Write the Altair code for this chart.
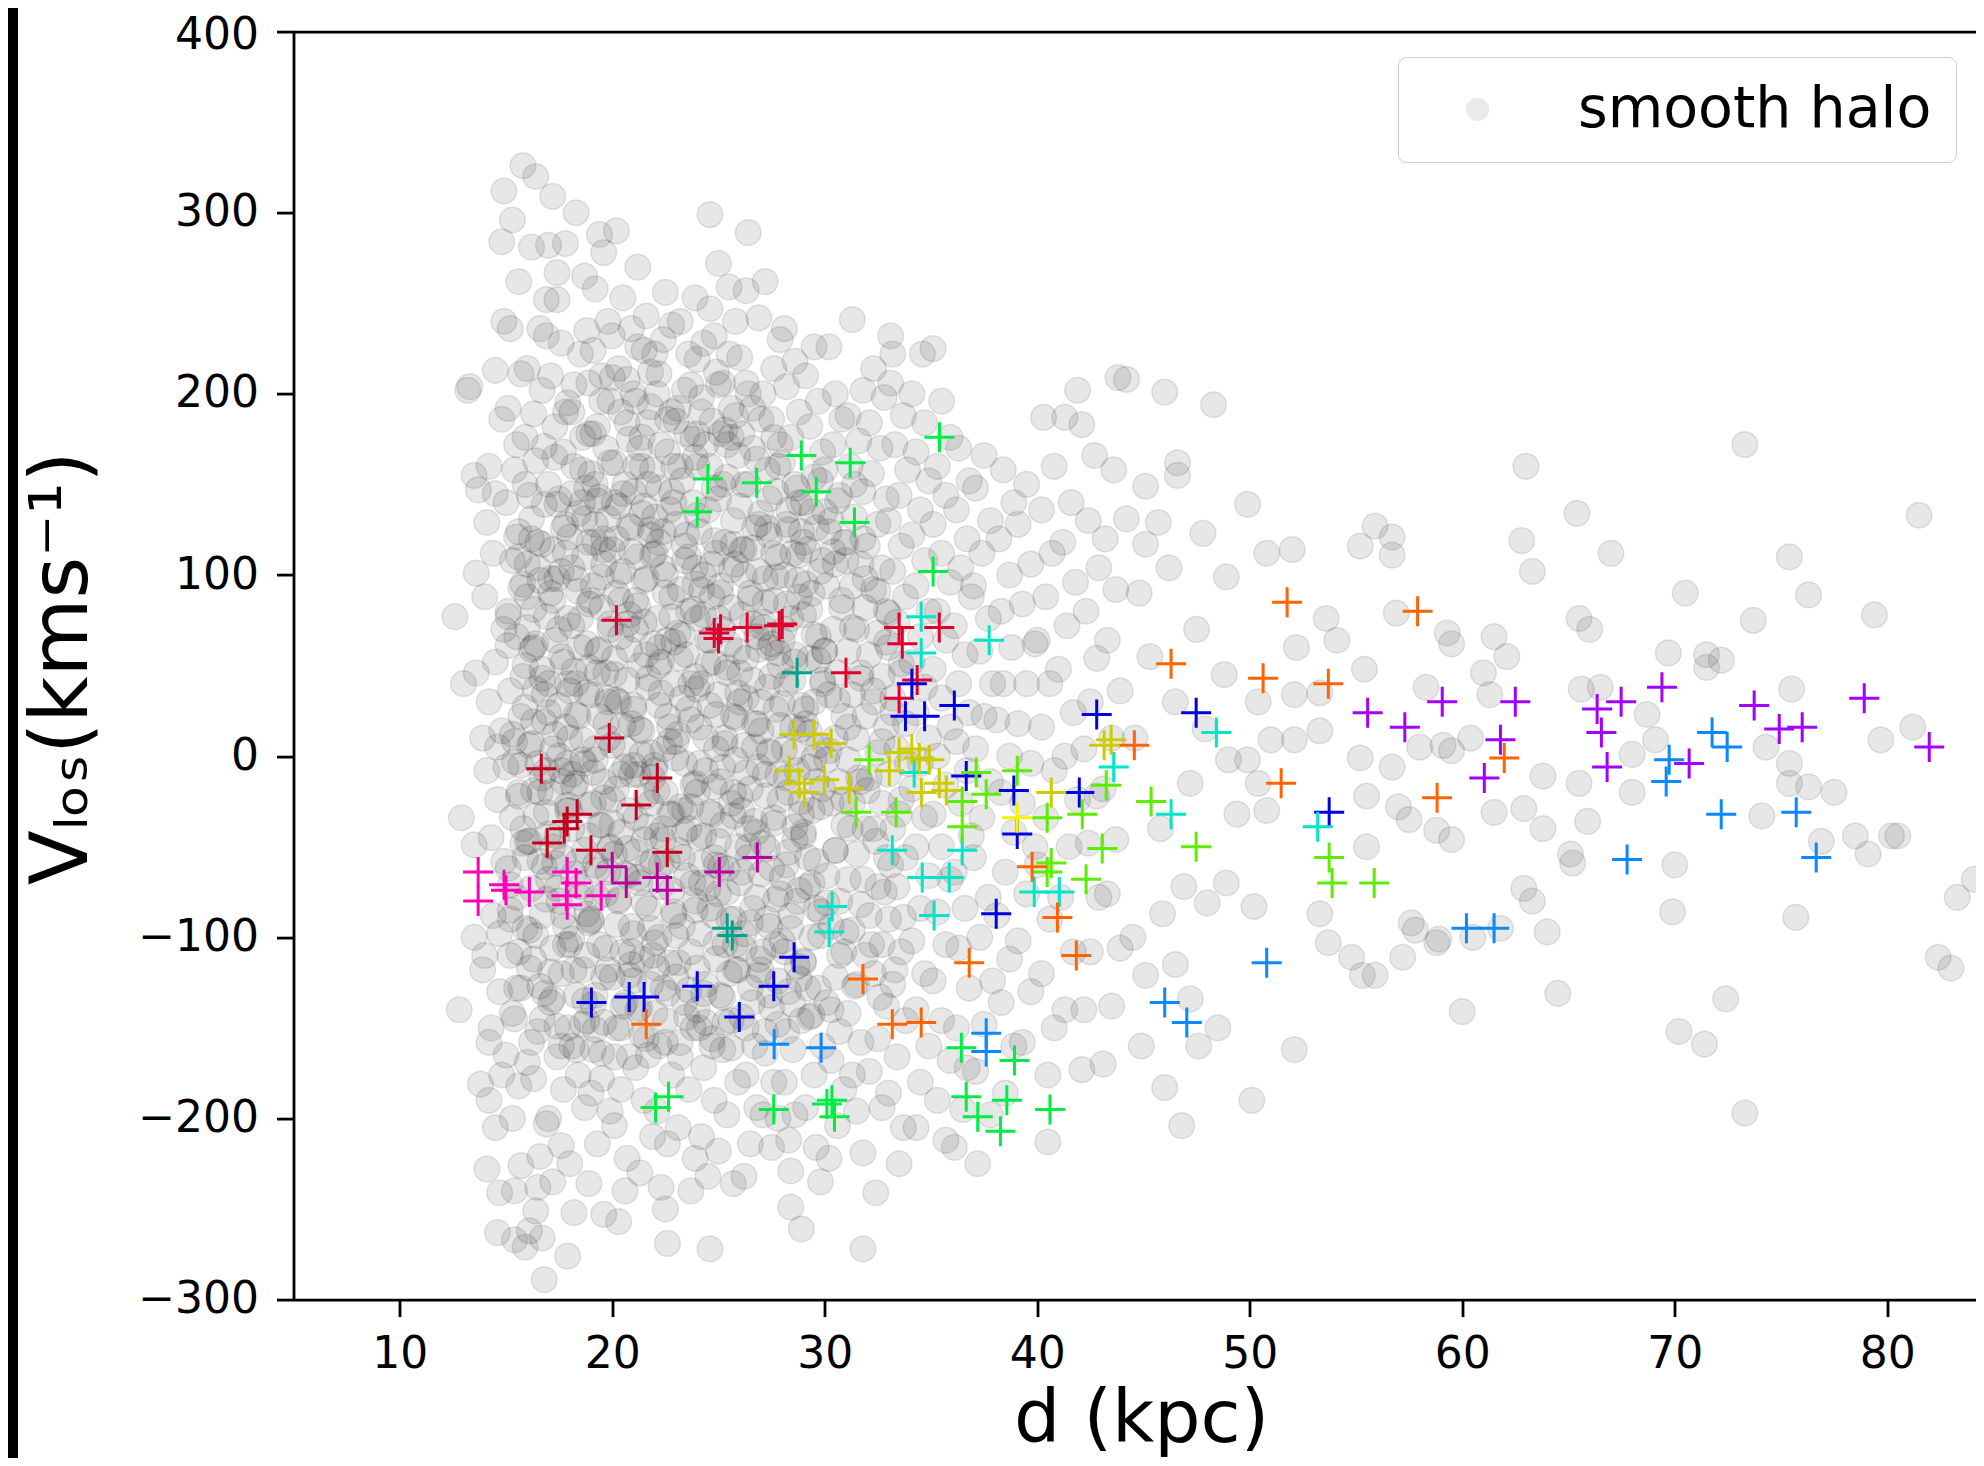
import altair as alt
import pandas as pd

# ---------------- smooth halo (grey circles), (d [kpc], v_los [km/s]) ----------------
halo_12_16 = [
    (12.6, 77), (12.8, -140), (13.3, 204), (13.0, 40), (13.5, 155), (12.9, -34), (13.8, -181), (13.9, 10),
    (13.5, -100), (13.7, 147), (13.5, -49), (13.6, 101), (13.6, 46), (13.9, -118), (13.2, 202),
    (14.9, 312), (14.8, 284), (14.5, 213), (14.8, 186), (14.2, 160), (14.1, 129), (14.4, 112), (14.0, 88),
    (14.9, 70), (14.5, 52), (14.2, 30), (14.8, 14), (14.1, -8), (14.6, -24), (14.3, -45), (14.9, -58),
    (14.4, -88), (14.0, -110), (14.7, -130), (14.2, -158), (14.8, -176), (14.5, -205), (14.1, -228),
    (14.7, -241), (14.6, -263), (14.3, -150), (14.7, -98), (14.5, 145), (14.9, 240), (14.2, -190), (14.6, 5),
    (15.8, 326), (15.3, 296), (15.6, 262), (15.2, 236), (15.7, 211), (15.1, 192), (15.9, 176), (15.4, 158),
    (15.0, 140), (15.6, 124), (15.3, 108), (15.8, 95), (15.1, 80), (15.5, 66), (15.9, 50), (15.2, 36),
    (15.7, 22), (15.4, 8), (15.0, -6), (15.6, -20), (15.3, -34), (15.8, -48), (15.1, -62), (15.5, -78),
    (15.9, -95), (15.2, -110), (15.7, -128), (15.4, -145), (15.0, -165), (15.6, -182), (15.3, -200),
    (15.7, -226), (15.4, -267), (15.9, -271), (15.9, 150), (15.4, -240), (15.2, -85), (15.7, -5), (15.5, 172),
]

halo_16_20 = [
    (16.4, 320), (16.9, 252), (16.7, 202), (16.9, 232), (16.2, 281), (16.6, 236), (16.0, 214), (16.3, 189),
    (16.8, 171), (16.4, 163), (16.1, 144), (16.8, 139), (16.5, 118), (16.0, 106), (16.6, 97), (16.3, 81),
    (16.9, 77), (16.2, 59), (16.7, 43), (16.4, 37), (16.8, 19), (16.1, 6), (16.5, -4), (16.3, -19),
    (16.9, -31), (16.0, -47), (16.6, -58), (16.2, -73), (16.7, -88), (16.4, -99), (16.1, -117), (16.8, -131),
    (16.5, -152), (16.0, -169), (16.3, -178), (16.9, -203), (16.6, -221), (16.4, -251), (16.7, -266),
    (16.8, -289), (16.5, -238), (16.1, -262), (16.3, 60), (16.7, -12), (16.2, 120),
    (17.2, 309), (17.0, 282), (17.8, 283), (17.4, 267), (17.4, 252), (17.6, 228), (17.1, 210), (17.9, 195),
    (17.3, 182), (17.7, 168), (17.0, 150), (17.5, 142), (17.8, 128), (17.2, 114), (17.6, 102), (17.1, 90),
    (17.9, 76), (17.3, 64), (17.7, 52), (17.0, 40), (17.5, 28), (17.8, 16), (17.2, 4), (17.6, -8),
    (17.1, -20), (17.9, -30), (17.4, -44), (17.7, -56), (17.0, -68), (17.5, -80), (17.8, -94), (17.2, -106),
    (17.6, -120), (17.1, -136), (17.9, -150), (17.4, -166), (17.7, -184), (17.0, -200), (17.2, -235),
    (17.9, -276), (17.6, -215), (17.2, -50), (17.9, -4), (17.4, 98),
    (18.7, 265), (18.8, 235), (18.5, 222), (18.3, 300), (18.9, 206), (18.1, 190), (18.6, 176), (18.2, 160),
    (18.8, 148), (18.4, 134), (18.0, 121), (18.7, 110), (18.3, 98), (18.9, 84), (18.1, 72), (18.5, 60),
    (18.2, 47), (18.8, 35), (18.4, 22), (18.0, 10), (18.6, -2), (18.3, -15), (18.9, -27), (18.1, -40),
    (18.7, -52), (18.2, -65), (18.5, -78), (18.9, -92), (18.0, -104), (18.6, -118), (18.3, -132),
    (18.8, -146), (18.1, -160), (18.4, -176), (18.7, -194), (18.2, -252), (18.9, -236), (18.0, -225),
    (18.6, 140), (18.3, 40), (18.8, -110), (18.1, -10),
    (19.4, 288), (19.6, 278), (19.2, 258), (19.8, 240), (19.1, 224), (19.5, 210), (19.9, 196), (19.3, 182),
    (19.7, 170), (19.0, 156), (19.4, 143), (19.8, 131), (19.2, 118), (19.6, 106), (19.1, 94), (19.5, 82),
    (19.9, 70), (19.3, 58), (19.7, 46), (19.0, 34), (19.4, 22), (19.8, 10), (19.2, -2), (19.6, -14),
    (19.1, -26), (19.5, -38), (19.9, -50), (19.3, -63), (19.7, -76), (19.0, -90), (19.4, -104), (19.8, -118),
    (19.2, -132), (19.6, -147), (19.1, -162), (19.5, -178), (19.9, -196), (19.3, -214), (19.6, -253),
    (19.0, -186), (19.6, 120), (19.2, -60), (19.8, 30),
]

halo_20_24 = [
    (20.5, 253), (20.0, 209), (20.7, 208), (20.2, 290), (20.9, 236), (20.4, 190), (20.8, 175), (20.1, 162),
    (20.6, 150), (20.3, 138), (20.9, 126), (20.0, 114), (20.5, 102), (20.2, 90), (20.8, 78), (20.4, 66),
    (20.1, 54), (20.7, 42), (20.3, 30), (20.9, 18), (20.0, 6), (20.6, -6), (20.2, -18), (20.8, -30),
    (20.4, -42), (20.1, -54), (20.7, -66), (20.3, -80), (20.9, -94), (20.5, -108), (20.0, -122), (20.6, -136),
    (20.2, -150), (20.8, -166), (20.4, -184), (20.1, -204), (20.7, -222), (20.3, -257), (20.6, -240),
    (20.9, -115), (20.4, -10), (20.2, 120),
    (21.6, 243), (21.5, 224), (21.2, 270), (21.8, 212), (21.1, 196), (21.7, 184), (21.3, 170), (21.9, 158),
    (21.0, 146), (21.4, 134), (21.8, 122), (21.2, 110), (21.6, 98), (21.1, 86), (21.5, 74), (21.9, 62),
    (21.3, 50), (21.7, 38), (21.0, 26), (21.4, 14), (21.8, 2), (21.2, -10), (21.6, -22), (21.1, -34),
    (21.5, -46), (21.9, -58), (21.3, -70), (21.7, -84), (21.0, -98), (21.4, -112), (21.8, -126), (21.2, -140),
    (21.6, -156), (21.1, -172), (21.5, -190), (21.9, -210), (21.3, -230), (21.7, -60), (21.4, 160), (21.0, -5),
    (22.0, 222), (22.5, 256), (22.8, 238), (22.1, 200), (22.6, 186), (22.3, 172), (22.9, 160), (22.2, 148),
    (22.7, 136), (22.4, 124), (22.0, 112), (22.5, 100), (22.8, 88), (22.1, 76), (22.6, 64), (22.3, 52),
    (22.9, 40), (22.2, 28), (22.7, 16), (22.4, 4), (22.0, -8), (22.5, -20), (22.8, -32), (22.1, -44),
    (22.6, -58), (22.3, -72), (22.9, -86), (22.2, -100), (22.7, -114), (22.4, -128), (22.0, -142),
    (22.5, -158), (22.8, -176), (22.1, -196), (22.6, -214), (22.5, -250), (22.6, -269), (22.3, -238),
    (22.9, 140), (22.4, -40), (22.2, 60),
    (23.9, 253), (24.0, 219), (23.2, 240), (23.7, 205), (23.1, 192), (23.5, 178), (23.9, 165), (23.3, 152),
    (23.8, 140), (23.0, 128), (23.4, 116), (23.9, 104), (23.2, 92), (23.6, 80), (23.1, 68), (23.5, 56),
    (23.9, 44), (23.3, 32), (23.7, 20), (23.0, 8), (23.4, -4), (23.8, -16), (23.2, -28), (23.6, -40),
    (23.1, -52), (23.5, -66), (23.9, -80), (23.3, -94), (23.7, -108), (23.0, -122), (23.4, -136),
    (23.8, -150), (23.2, -166), (23.6, -184), (23.7, -240), (23.1, -205), (23.9, -222), (23.4, -30),
    (23.6, 110),
]

halo_24_28 = [
    (24.6, 299), (24.6, 247), (24.3, 228), (24.9, 212), (24.2, 198), (24.7, 185), (24.4, 172), (24.0, 160),
    (24.8, 148), (24.5, 136), (24.1, 124), (24.9, 112), (24.3, 100), (24.7, 88), (24.0, 76), (24.5, 64),
    (24.8, 52), (24.2, 40), (24.6, 28), (24.1, 16), (24.9, 4), (24.4, -8), (24.0, -20), (24.7, -32),
    (24.3, -44), (24.8, -56), (24.2, -70), (24.6, -84), (24.1, -98), (24.9, -112), (24.4, -126), (24.0, -140),
    (24.7, -156), (24.3, -172), (24.8, -190), (24.2, -210), (24.6, -272), (24.5, -232), (24.9, -60),
    (24.1, -150),
    (25.5, 259), (25.5, 222), (25.0, 272), (25.8, 240), (25.2, 206), (25.6, 192), (25.1, 178), (25.9, 166),
    (25.4, 154), (25.0, 142), (25.7, 130), (25.3, 118), (25.8, 106), (25.1, 94), (25.6, 82), (25.2, 70),
    (25.9, 58), (25.4, 46), (25.0, 34), (25.7, 22), (25.3, 10), (25.8, -2), (25.1, -14), (25.6, -26),
    (25.2, -38), (25.9, -50), (25.4, -62), (25.0, -76), (25.7, -90), (25.3, -104), (25.8, -118), (25.1, -132),
    (25.6, -146), (25.2, -162), (25.9, -180), (25.4, -198), (25.0, -218), (25.7, -236), (25.5, -120),
    (25.3, 180),
    (26.4, 289), (26.3, 257), (26.0, 220), (26.3, 206), (26.9, 242), (26.6, 192), (26.1, 178), (26.8, 164),
    (26.4, 150), (26.0, 138), (26.7, 126), (26.2, 114), (26.9, 102), (26.5, 90), (26.1, 78), (26.8, 66),
    (26.3, 54), (26.6, 42), (26.0, 30), (26.7, 18), (26.2, 6), (26.9, -6), (26.5, -18), (26.1, -30),
    (26.8, -42), (26.4, -56), (26.0, -70), (26.6, -84), (26.2, -98), (26.9, -112), (26.5, -128), (26.1, -144),
    (26.7, -160), (26.3, -176), (26.8, -194), (26.5, -214), (26.2, -232), (26.6, 115), (26.4, -40),
    (27.9, 230), (27.2, 262), (27.6, 214), (27.1, 200), (27.5, 186), (27.9, 172), (27.3, 158), (27.7, 146),
    (27.0, 134), (27.4, 122), (27.8, 110), (27.2, 98), (27.6, 86), (27.1, 74), (27.5, 62), (27.9, 50),
    (27.3, 38), (27.7, 26), (27.0, 14), (27.4, 2), (27.8, -10), (27.2, -22), (27.6, -34), (27.1, -48),
    (27.5, -62), (27.9, -76), (27.3, -90), (27.7, -104), (27.0, -118), (27.4, -132), (27.8, -148),
    (27.2, -164), (27.6, -180), (27.1, -198), (27.5, -216), (27.8, -200), (27.4, 60),
]

halo_28_32 = [
    (28.4, -229), (28.4, -249), (28.9, -261), (28.1, 236), (28.6, 218), (28.2, 204), (28.8, 190), (28.4, 176),
    (28.0, 162), (28.7, 148), (28.3, 136), (28.9, 124), (28.5, 112), (28.1, 100), (28.8, 88), (28.4, 76),
    (28.0, 64), (28.6, 52), (28.2, 40), (28.9, 28), (28.5, 16), (28.1, 4), (28.7, -8), (28.3, -20),
    (28.9, -32), (28.6, -46), (28.2, -60), (28.8, -74), (28.4, -88), (28.0, -102), (28.7, -116), (28.3, -130),
    (28.9, -146), (28.5, -162), (28.1, -180), (28.6, -198), (28.3, -212),
    (29.5, 226), (29.1, 210), (29.7, 196), (29.3, 182), (29.9, 168), (29.5, 154), (29.0, 140), (29.6, 126),
    (29.2, 114), (29.8, 102), (29.4, 90), (29.0, 78), (29.7, 66), (29.3, 54), (29.9, 42), (29.5, 30),
    (29.1, 18), (29.7, 6), (29.3, -6), (29.9, -18), (29.4, -30), (29.0, -44), (29.6, -58), (29.2, -72),
    (29.8, -86), (29.4, -100), (29.0, -114), (29.7, -128), (29.3, -144), (29.9, -160), (29.5, -176),
    (29.1, -194), (29.6, -216), (29.8, -235),
    (30.5, 200), (30.2, 226), (30.8, 186), (30.4, 172), (30.0, 158), (30.7, 144), (30.3, 130), (30.9, 118),
    (30.5, 106), (30.1, 94), (30.8, 82), (30.4, 70), (30.0, 58), (30.6, 46), (30.2, 34), (30.9, 22),
    (30.5, 10), (30.1, -2), (30.7, -14), (30.3, -26), (30.9, -38), (30.5, -52), (30.1, -66), (30.7, -80),
    (30.3, -94), (30.9, -108), (30.5, -122), (30.1, -136), (30.7, -152), (30.3, -168), (30.9, -184),
    (30.6, -204), (30.2, -222),
    (31.3, 241), (31.8, 202), (31.1, 188), (31.6, 174), (31.2, 160), (31.8, 146), (31.4, 132), (31.0, 118),
    (31.7, 106), (31.3, 94), (31.9, 82), (31.5, 70), (31.1, 58), (31.7, 46), (31.3, 34), (31.9, 22),
    (31.5, 10), (31.1, -2), (31.7, -14), (31.3, -26), (31.9, -40), (31.5, -54), (31.1, -68), (31.7, -82),
    (31.3, -96), (31.9, -110), (31.5, -126), (31.1, -142), (31.7, -158), (31.3, -176), (31.8, -272),
    (31.8, -219), (31.5, -196),
]

halo_32_36 = [
    (32.4, -241), (32.3, 214), (32.8, 198), (32.1, 184), (32.6, 170), (32.2, 156), (32.9, 142), (32.5, 128),
    (32.0, 116), (32.7, 104), (32.3, 92), (32.9, 80), (32.5, 68), (32.1, 56), (32.7, 44), (32.3, 30),
    (32.9, 16), (32.5, 2), (32.1, -12), (32.7, -26), (32.3, -40), (32.9, -56), (32.5, -72), (32.1, -88),
    (32.7, -104), (32.3, -120), (32.9, -138), (32.5, -156), (32.1, -174), (32.7, -194),
    (33.1, 232), (33.2, 222), (33.1, 206), (33.5, -225), (33.7, 188), (33.3, 172), (33.9, 158), (33.5, 144),
    (33.0, 130), (33.6, 116), (33.2, 102), (33.8, 88), (33.4, 74), (33.0, 60), (33.6, 46), (33.2, 32),
    (33.8, 18), (33.4, 4), (33.0, -10), (33.6, -24), (33.2, -40), (33.8, -56), (33.4, -72), (33.0, -90),
    (33.6, -108), (33.2, -126), (33.8, -146), (33.4, -166), (33.0, -186), (33.7, -205),
    (34.6, 222), (34.1, 200), (34.3, -205), (34.7, 184), (34.3, 168), (34.9, 152), (34.5, 136), (34.1, 122),
    (34.7, 108), (34.3, 94), (34.9, 80), (34.5, 66), (34.1, 52), (34.7, 38), (34.3, 24), (34.9, 10),
    (34.5, -4), (34.1, -18), (34.7, -34), (34.3, -50), (34.9, -66), (34.5, -84), (34.1, -102), (34.7, -120),
    (34.3, -140), (34.9, -160), (34.5, -180),
    (35.1, 225), (35.5, 196), (35.9, 176), (35.3, 160), (35.7, 144), (35.1, 128), (35.5, 112), (35.9, 96),
    (35.3, 80), (35.7, 64), (35.1, 48), (35.5, 32), (35.9, 16), (35.3, 0), (35.7, -16), (35.1, -32),
    (35.5, -50), (35.9, -68), (35.3, -86), (35.7, -104), (35.1, -124), (35.5, -146), (35.9, -168),
    (35.3, -190), (35.7, -212),
]

# denser inner part of the halo (where the cloud is darkest)
halo_core_15_23 = [
    (15.3, -142), (15.6, -108), (15.2, -71), (15.8, -40), (15.4, -3), (15.9, 27), (15.1, 61), (15.7, 93), (15.5, 121),
    (16.2, -158), (16.6, -127), (16.1, -96), (16.8, -61), (16.4, -33), (16.9, -8), (16.3, 19), (16.7, 48),
    (16.0, 71), (16.5, 104), (16.2, 131),
    (17.4, -149), (17.1, -119), (17.7, -88), (17.3, -59), (17.9, -27), (17.5, 0), (17.0, 24), (17.6, 55),
    (17.2, 86), (17.8, 112), (17.4, 139),
    (18.3, -162), (18.7, -135), (18.1, -101), (18.5, -72), (18.9, -44), (18.2, -17), (18.6, 9), (18.0, 36),
    (18.8, 62), (18.4, 91), (18.9, 118), (18.1, 145),
    (19.2, -151), (19.6, -122), (19.0, -91), (19.8, -64), (19.4, -38), (19.1, -9), (19.7, 18), (19.3, 46),
    (19.9, 73), (19.5, 99), (19.2, 128),
    (20.1, -166), (20.5, -138), (20.9, -108), (20.3, -79), (20.7, -51), (20.0, -24), (20.6, 4), (20.2, 31),
    (20.8, 59), (20.4, 86), (20.9, 113), (20.1, 140),
    (21.4, -154), (21.0, -124), (21.8, -95), (21.2, -67), (21.6, -39), (21.9, -12), (21.3, 15), (21.7, 43),
    (21.1, 70), (21.5, 97), (21.8, 125),
    (22.2, -160), (22.6, -131), (22.0, -103), (22.8, -74), (22.4, -46), (22.1, -19), (22.7, 8), (22.3, 35),
    (22.9, 63), (22.5, 90), (22.2, 118), (22.8, 146),
    (15.5, -128), (15.2, -90), (15.9, -56), (15.6, -22), (15.3, 12), (15.8, 44), (15.1, 77), (15.6, 110),
    (16.7, -145), (16.3, -112), (16.9, -79), (16.1, -47), (16.6, -20), (16.2, 7), (16.8, 34), (16.4, 62),
    (16.0, 88), (16.7, 117),
    (17.6, -160), (17.2, -134), (17.8, -104), (17.4, -73), (17.0, -43), (17.7, -14), (17.3, 12), (17.9, 40),
    (17.5, 70), (17.1, 98), (17.7, 126),
    (18.6, -148), (18.2, -118), (18.8, -87), (18.4, -58), (18.0, -30), (18.7, -4), (18.3, 23), (18.9, 49),
    (18.5, 76), (18.1, 104), (18.7, 131),
    (19.5, -164), (19.1, -137), (19.7, -106), (19.3, -78), (19.9, -51), (19.6, -23), (19.2, 4), (19.8, 32),
    (19.4, 59), (19.0, 86), (19.6, 114), (19.3, 141),
    (20.4, -150), (20.8, -121), (20.2, -93), (20.6, -65), (20.0, -37), (20.9, -10), (20.5, 17), (20.1, 45),
    (20.7, 73), (20.3, 100), (20.8, 127),
    (21.7, -165), (21.3, -139), (21.9, -110), (21.5, -81), (21.1, -53), (21.8, -26), (21.4, 1), (21.0, 28),
    (21.6, 56), (21.2, 83), (21.9, 111), (21.5, 138),
    (22.5, -146), (22.1, -117), (22.9, -88), (22.3, -60), (22.7, -32), (22.0, -5), (22.6, 22), (22.2, 50),
    (22.8, 77), (22.4, 104), (22.0, 132),
]

halo_core_23_34 = [
    (23.2, -158), (23.6, -129), (23.0, -99), (23.8, -70), (23.4, -42), (23.9, -15), (23.1, 12), (23.7, 40),
    (23.3, 67), (23.9, 95), (23.5, 122),
    (24.4, -147), (24.0, -117), (24.8, -88), (24.2, -59), (24.6, -31), (24.1, -4), (24.9, 23), (24.5, 51),
    (24.3, 78), (24.7, 106), (24.0, 133),
    (25.6, -161), (25.2, -133), (25.8, -104), (25.4, -75), (25.0, -47), (25.7, -20), (25.3, 7), (25.9, 35),
    (25.5, 62), (25.1, 90), (25.7, 117),
    (26.3, -150), (26.9, -121), (26.5, -92), (26.1, -64), (26.7, -36), (26.3, -9), (26.8, 18), (26.0, 46),
    (26.6, 73), (26.2, 100), (26.9, 128),
    (27.5, -139), (27.1, -108), (27.7, -79), (27.3, -51), (27.9, -24), (27.4, 3), (27.0, 30), (27.8, 57),
    (27.2, 85), (27.6, 112),
    (28.2, -152), (28.8, -123), (28.4, -95), (28.0, -67), (28.6, -39), (28.2, -12), (28.9, 15), (28.5, 42),
    (28.1, 70), (28.7, 97), (28.3, 125),
    (29.4, -143), (29.0, -113), (29.6, -84), (29.2, -56), (29.8, -28), (29.5, -1), (29.1, 26), (29.7, 53),
    (29.3, 81), (29.9, 108),
    (23.5, -144), (23.1, -114), (23.9, -85), (23.3, -56), (23.7, -28), (23.0, -1), (23.6, 26), (23.2, 54),
    (23.8, 81), (23.4, 108),
    (24.7, -160), (24.3, -131), (24.9, -103), (24.5, -73), (24.1, -45), (24.8, -17), (24.4, 10), (24.0, 37),
    (24.6, 64), (24.2, 92), (24.8, 119),
    (25.3, -147), (25.9, -118), (25.5, -90), (25.1, -61), (25.7, -33), (25.2, -6), (25.8, 21), (25.4, 49),
    (25.0, 76), (25.6, 103),
    (26.6, -136), (26.2, -106), (26.8, -78), (26.4, -50), (26.0, -22), (26.7, 5), (26.3, 32), (26.9, 59),
    (26.5, 87), (26.1, 114),
    (27.2, -152), (27.8, -124), (27.4, -94), (27.0, -65), (27.6, -37), (27.2, -10), (27.9, 17), (27.5, 44),
    (27.1, 71), (27.7, 99), (27.3, 126),
    (28.5, -137), (28.1, -108), (28.7, -80), (28.3, -53), (28.9, -25), (28.5, 2), (28.0, 29), (28.6, 56),
    (28.2, 84), (28.8, 111),
    (29.2, -128), (29.8, -99), (29.4, -70), (29.0, -42), (29.6, -14), (29.3, 13), (29.9, 40), (29.5, 67),
    (29.1, 95),
    (30.3, -140), (30.7, -110), (30.1, -81), (30.5, -52), (30.9, -24), (30.2, 3), (30.6, 31), (30.0, 58),
    (30.8, 86), (30.4, 113),
    (31.4, -127), (31.0, -97), (31.8, -68), (31.2, -40), (31.6, -12), (31.1, 16), (31.7, 43), (31.3, 71),
    (31.9, 98),
    (32.6, -133), (32.2, -104), (32.8, -75), (32.4, -47), (32.0, -19), (32.7, 8), (32.3, 36), (32.9, 63),
    (32.5, 91),
    (33.3, -118), (33.7, -89), (33.1, -60), (33.5, -32), (33.9, -4), (33.2, 24), (33.6, 51), (33.0, 79),
]

halo_core_upper = [
    (17.3, 165), (17.8, 190), (18.2, 205), (18.6, 158), (19.1, 178), (19.5, 196), (19.9, 162), (20.3, 214),
    (20.7, 184), (21.0, 200), (21.4, 176), (21.8, 193), (22.2, 211), (22.6, 168), (23.0, 185), (23.4, 202),
    (23.8, 175), (24.2, 190), (24.6, 160), (25.0, 205), (25.4, 172), (25.8, 188), (26.2, 150), (26.6, 170),
    (27.0, 186), (27.4, 142), (27.8, 160), (28.2, 128), (28.6, 150), (29.0, 118), (29.4, 135), (29.8, 152),
    (30.2, 124), (30.6, 141), (31.0, 108), (31.4, 150), (31.8, 120), (20.0, 232), (21.2, 226), (22.4, 230),
    (23.6, 222), (24.8, 232), (19.2, 150), (20.5, 145), (21.7, 150), (22.8, 190), (24.0, 178), (25.2, 150),
    (26.4, 200), (27.6, 176), (28.8, 140), (30.0, 135), (18.9, 178), (21.1, 160), (23.2, 160), (25.6, 176),
]

halo_36_44 = [
    (36.1, -216), (37.2, -225), (36.3, 170), (36.8, 152), (36.2, 136), (36.7, 120), (36.4, 104), (36.9, 88),
    (36.1, 72), (36.6, 56), (36.3, 40), (36.8, 24), (36.2, 8), (36.7, -8), (36.4, -26), (36.9, -44),
    (36.1, -64), (36.6, -84), (36.3, -106), (36.8, -128), (36.2, -150), (36.7, -172), (36.5, -195),
    (37.5, 166), (37.1, 148), (37.8, 130), (37.4, 112), (37.0, 94), (37.7, 76), (37.3, 58), (37.9, 40),
    (37.5, 22), (37.1, 4), (37.8, -14), (37.4, -34), (37.0, -56), (37.7, -78), (37.3, -100), (37.9, -124),
    (37.5, -148), (37.1, -174), (37.8, -198),
    (38.4, 158), (38.9, 140), (38.2, 120), (38.7, 100), (38.3, 80), (38.8, 60), (38.4, 40), (38.1, 20),
    (38.7, 0), (38.3, -20), (38.9, -42), (38.5, -64), (38.1, -88), (38.7, -112), (38.3, -136), (38.9, -160),
    (38.5, -186),
    (39.5, 150), (39.1, 128), (39.7, 106), (39.3, 84), (39.9, 62), (39.5, 40), (39.1, 18), (39.7, -4),
    (39.3, -26), (39.9, -50), (39.5, -76), (39.1, -102), (39.7, -130), (39.3, -158), (40.5, -213),
    (40.3, 187), (40.8, 160), (40.2, 136), (40.7, 112), (40.4, 88), (40.0, 64), (40.6, 40), (40.2, 16),
    (40.8, -8), (40.4, -34), (40.0, -60), (40.6, -90), (40.2, -120), (40.8, -150), (40.5, -176),
    (41.3, 187), (42.1, 183), (41.9, 202), (41.6, 140), (41.2, 118), (41.8, 96), (41.4, 72), (41.0, 48),
    (41.7, 24), (41.3, 0), (41.9, -24), (41.5, -50), (41.1, -78), (41.7, -108), (41.3, -140), (42.1, -173),
    (42.7, 166), (43.6, 158), (43.8, 209), (42.4, 130), (42.9, 104), (42.3, 80), (42.8, 54), (42.5, 30),
    (42.2, 4), (42.8, -22), (42.4, -48), (42.9, -78), (42.5, -108), (42.2, -140), (43.2, 120), (43.7, 92),
    (43.3, 64), (43.9, 36), (43.5, 10), (43.1, -18), (43.7, -46), (43.3, -76), (43.9, -106), (43.5, -138),
    (43.1, -170),
]

halo_44_60 = [
    (44.2, 208), (46.0, 201), (48.3, 194), (46.6, 162), (46.6, 155), (45.1, 149), (49.9, 139), (45.7, 129),
    (47.8, 123), (48.9, 99), (50.8, 112), (52.0, 114), (55.9, 127), (56.7, 121), (55.2, 116), (56.7, 111),
    (53.6, 76), (54.1, 64), (52.2, 60), (56.9, 79), (59.3, 68), (59.5, 62), (55.4, 48), (50.4, 30),
    (52.1, 34), (53.3, 35), (58.3, 38), (51.0, 9), (52.1, 9), (53.3, 14), (55.2, -1), (56.7, -6),
    (58.0, 5), (59.1, 6), (59.5, 3), (49.0, -2), (49.9, -2), (50.4, -15), (49.4, -32), (50.8, -30),
    (55.5, -22), (57.0, -28), (57.5, -35), (58.8, -41), (59.5, -46), (53.3, -87), (53.7, -103), (57.6, -92),
    (58.9, -101), (55.5, -50), (46.9, -72), (45.9, -87), (48.9, -70), (48.0, -81), (50.2, -83), (54.8, -111),
    (57.2, -111), (55.3, -121), (55.9, -121), (57.8, -96), (58.8, -103), (60.0, -141), (45.1, -121),
    (47.2, -134), (46.0, -183), (46.8, -204), (50.1, -190), (52.1, -162), (44.2, 131), (45.1, 117),
    (44.8, 90), (46.2, 104), (47.5, 70), (45.3, 55), (46.5, 30), (44.6, 10), (47.2, -15), (45.8, -40),
    (44.5, -100), (48.5, -150), (47.6, -160), (44.9, -160), (46.5, -115), (48.8, 45), (47.9, 15),
]

halo_60_85 = [
    (62.8, 119), (63.3, 102), (63.0, 160), (65.4, 134), (67.0, 112), (75.4, 110), (81.5, 133), (76.3, 89),
    (65.5, 76), (73.7, 75), (79.4, 78), (69.7, 57), (71.5, 56), (72.2, 53), (71.5, 49), (65.6, 37),
    (66.5, 38), (68.7, 23), (75.5, 37), (69.1, 9), (68.0, 1), (74.3, 5), (75.4, -4), (81.2, 16),
    (79.7, 9), (65.5, -15), (75.4, -15), (76.3, -17), (65.9, -36), (74.1, -33), (65.1, -54), (65.2, -59),
    (76.9, -47), (79.1, -54), (80.2, -44), (69.9, -86), (75.7, -89), (83.3, -78), (84.1, -68), (82.4, -111),
    (83.0, -117), (61.5, 66), (62.1, 55), (61.0, 46), (61.3, 34), (63.8, -11), (61.5, -31), (62.9, -29),
    (63.8, -40), (62.9, -73), (63.3, -80), (64.0, -97), (64.5, -131), (70.2, -152), (71.4, -159),
    (72.4, -134), (73.3, -197), (73.3, 172), (60.5, -100), (61.8, -95), (60.4, 10), (66.0, 70), (68.0, -20),
    (70.5, 90), (70.0, -60), (77.5, -20), (78.5, -44), (80.5, -44),
]

# ---------------- coloured '+' groups (d, v) ----------------
red_upper = [(20.2, 75), (24.8, 68), (25.0, 65), (25.1, 70), (26.35, 71), (27.86, 72), (28.0, 73),
             (33.5, 71), (35.39, 71), (33.65, 62), (31.0, 46), (34.35, 42), (33.5, 32)]
red_lower = [(19.86, 10), (16.66, -7), (22.12, -12), (21.13, -27), (18.35, -32), (17.88, -36),
             (17.74, -40), (16.94, -48), (19.0, -52), (22.59, -53)]
pink = [(13.69, -64), (13.69, -80), (14.91, -71), (15.0, -74), (16.1, -75), (17.88, -64), (18.3, -70),
        (17.84, -77), (17.88, -82), (19.48, -77)]
magenta = [(20.0, -61), (20.66, -70), (22.12, -67), (22.59, -74), (25.04, -64), (26.83, -56)]
blue = [(34.1, 40), (33.8, 22), (34.7, 22), (36.1, 28), (42.8, 23), (36.66, -11), (38.9, -19),
        (41.98, -20), (39.06, -43), (38.07, -87), (28.56, -111), (27.6, -127), (25.98, -144), (24.0, -127),
        (47.48, 24), (53.74, -31), (19.02, -136), (20.8, -133), (21.5, -133)]
azure = [(27.62, -159), (29.83, -161), (37.6, -153), (37.6, -163), (50.8, -114), (60.2, -95), (61.5, -95),
         (46.0, -136), (47.04, -147), (71.76, 13), (72.47, 5), (69.74, -2), (69.6, -14), (72.19, -32),
         (75.72, -31), (67.76, -57), (76.66, -56)]
cyan = [(34.54, 77), (37.74, 64), (34.54, 57), (34.21, -9), (33.18, -52), (36.47, -52), (34.59, -67),
        (35.86, -67), (35.15, -88), (30.35, -83), (30.21, -97), (39.86, -75), (41.04, -75), (43.6, -6),
        (48.43, 13), (46.3, -32), (53.2, -39)]
teal = [(28.7, 46), (25.41, -95), (25.65, -99)]
green = [(35.4, 176), (28.9, 166), (31.2, 162), (24.5, 153), (26.8, 151), (29.6, 146), (24.0, 135),
         (31.4, 129), (35.1, 102), (22.04, -194), (22.65, -188), (27.6, -195), (30.1, -192), (30.46, -199),
         (30.34, -190), (36.43, -161), (38.93, -168), (36.66, -188), (38.57, -190), (37.2, -199), (38.27, -207),
         (40.6, -195)]
lime = [(32.09, -2), (31.48, -31), (33.36, -31), (37.13, -9), (36.47, -25), (36.47, -39), (37.6, -21),
        (39.06, -8), (40.47, -34), (42.12, -32), (43.25, -16), (43.06, -51), (40.66, -59), (40.47, -64),
        (42.3, -68), (45.36, -25), (47.48, -50), (53.74, -56), (53.88, -70), (55.86, -70)]
olive = [(28.56, 12), (29.5, 12), (30.3, 7), (28.33, -8), (28.8, -15), (29.04, -20), (29.98, -13),
         (31.15, -18), (33.5, 2), (34.1, 4), (34.45, -1), (33.04, -8), (34.92, -2), (35.39, -15), (35.72, -19),
         (34.55, -20), (40.66, -20), (43.15, 6), (43.48, 9)]
yellow = [(39.06, -34)]
orange = [(21.6, -148), (31.8, -123), (33.18, -148), (34.54, -147), (36.8, -114), (39.76, -61), (40.95, -89),
          (41.84, -110), (51.76, 85), (57.9, 80), (46.3, 51), (50.63, 43), (53.7, 40), (44.57, 6),
          (51.48, -15), (61.98, -1), (58.82, -23)]
violet = [(55.55, 24), (57.3, 16), (59.06, 30), (62.5, 30), (61.8, 9), (61.04, -12), (66.35, 26), (66.55, 13),
          (67.48, 30), (69.4, 38), (66.82, -6), (70.68, -4), (73.74, 28), (74.92, 15), (76.0, 16), (78.92, 32),
          (81.98, 5)]

group_colors = {
    "red_upper": "#e0002c", "red_lower": "#c2001c", "pink": "#ff00b8", "magenta": "#b8009c",
    "blue": "#0000e6", "azure": "#0a88ff", "cyan": "#00e6c6", "teal": "#00a48e", "green": "#00ee44",
    "lime": "#5cee00", "olive": "#cccc00", "yellow": "#f4f400", "orange": "#ff6400", "violet": "#a400ff",
}
groups = {
    "red_upper": red_upper, "red_lower": red_lower, "pink": pink, "magenta": magenta, "blue": blue,
    "azure": azure, "cyan": cyan, "teal": teal, "green": green, "lime": lime, "olive": olive,
    "yellow": yellow, "orange": orange, "violet": violet,
}

x_ticks = [10, 20, 30, 40, 50, 60, 70, 80]
y_ticks = [-300, -200, -100, 0, 100, 200, 300, 400]

# ---------------- tables ----------------
halo_pts = (halo_12_16 + halo_16_20 + halo_20_24 + halo_24_28 + halo_28_32 + halo_32_36
            + halo_core_15_23 + halo_core_23_34 + halo_core_upper + halo_36_44 + halo_44_60 + halo_60_85)
halo_df = pd.DataFrame(halo_pts, columns=["d", "v"])
halo_df["label"] = "smooth halo"

rows = []
for name, pts in groups.items():
    for d, v in pts:
        rows.append({"d": d, "v": v, "col": group_colors[name]})
cross_df = pd.DataFrame(rows)

FONT = "DejaVu Sans"
PLOT_W = 1682.5
PLOT_H = 1268
x_scale = alt.Scale(domain=[5, 84.18], nice=False, zero=False)
y_scale = alt.Scale(domain=[-300, 400], nice=False, zero=False)

x_axis = alt.Axis(
    values=x_ticks, title="d (kpc)", titleFont=FONT, titleFontSize=73, titleFontWeight="normal",
    titleColor="black", titleX=847.5, titleY=142, titleAlign="center", titleBaseline="alphabetic",
    labelFont=FONT, labelFontSize=44, labelColor="black", labelPadding=16, labelFlush=False,
    tickSize=17, tickWidth=2.8, tickColor="black", domainColor="black", domainWidth=2.8, grid=False,
)
y_axis = alt.Axis(
    values=y_ticks, title="Vₗₒₛ(kms⁻¹)", titleFont=FONT, titleFontSize=80, titleFontWeight="normal",
    titleColor="black", titleX=-207, titleY=PLOT_H / 2 + 2, titleAngle=270, titleAlign="center",
    titleBaseline="alphabetic", labelFont=FONT, labelFontSize=44, labelColor="black", labelPadding=18,
    labelOffset={"condition": {"test": "datum.value === 400", "value": 4}, "value": 0},
    labelFlush=False, tickSize=17, tickWidth=2.8, tickColor="black", domainColor="black",
    domainWidth=2.8, grid=False,
)
top_axis = alt.Axis(orient="top", labels=False, ticks=False, title=None, domainColor="black",
                    domainWidth=2.8, grid=False)

strip = alt.Chart(pd.DataFrame({"k": [0]})).mark_rect(color="black").encode(
    x=alt.value(-285.5), x2=alt.value(-275.5), y=alt.value(-23.6), y2=alt.value(PLOT_H + 158.4)
)

halo = alt.Chart(halo_df).mark_circle(
    size=660, opacity=1, fillOpacity=0.095, stroke="black", strokeOpacity=0.1, strokeWidth=1.5, clip=True
).encode(
    x=alt.X("d:Q", scale=x_scale, axis=x_axis),
    y=alt.Y("v:Q", scale=y_scale, axis=y_axis),
    color=alt.Color(
        "label:N",
        scale=alt.Scale(domain=["smooth halo"], range=["black"]),
        legend=alt.Legend(
            title=None, orient="none", legendX=1104.5, legendY=25.4, padding=24, cornerRadius=8,
            strokeColor="#cccccc", fillColor="white", labelFont=FONT, labelFontSize=57, labelColor="black",
            labelLimit=1000, symbolType="circle", symbolSize=500, symbolFillColor="black",
            symbolStrokeColor="black", symbolOpacity=0.08, symbolStrokeWidth=1, symbolOffset=27,
            labelOffset=72,
        ),
    ),
)

crosses = alt.Chart(cross_df).mark_point(
    shape="M-1,0L1,0M0,-1L0,1", filled=False, size=900, strokeWidth=3, opacity=1, clip=True
).encode(
    x=alt.X("d:Q", scale=x_scale, axis=top_axis),
    y=alt.Y("v:Q", scale=y_scale, axis=y_axis),
    stroke=alt.Stroke("col:N", scale=None),
)

chart = (
    alt.layer(strip, halo, crosses)
    .resolve_axis(x="independent")
    .properties(
        width=PLOT_W, height=PLOT_H,
        autosize=alt.AutoSizeParams(type="none"),
        padding={"left": 285.5, "top": 23.6, "right": 0, "bottom": 158.4},
        background="white",
    )
    .configure_view(stroke=None)
)

chart.save("out.html", embed_options={"renderer": "svg", "actions": False})
